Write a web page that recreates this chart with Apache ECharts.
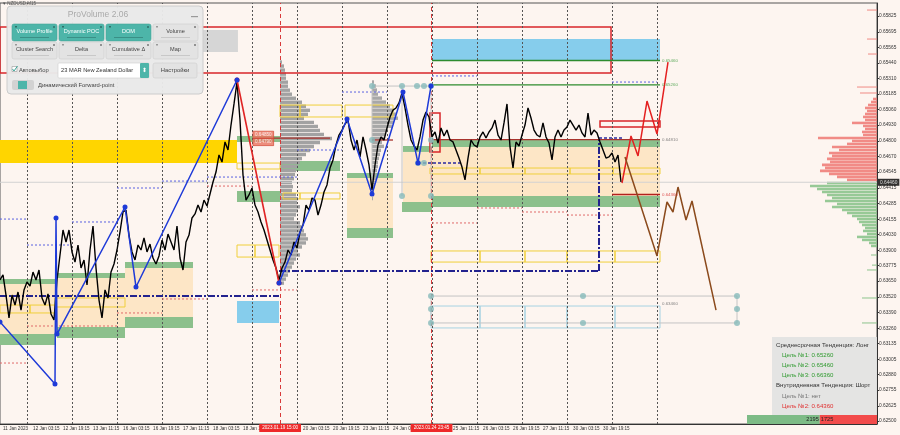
<!DOCTYPE html>
<html><head><meta charset="utf-8">
<script src="https://cdn.jsdelivr.net/npm/echarts@6/dist/echarts.min.js"></script>
<style>html,body{margin:0;padding:0;background:#fdf5f0}#c{width:900px;height:435px}</style>
</head><body><div id="c"></div>
<script>
// ---------- axis ticks ----------
const timeTicks = [11.25, 27.25, 43.25, 59.25, 75.25, 91.25, 107.25, 123.25, 139.25, 171.25, 187.25, 203.25, 219.25, 251.25, 267.25, 283.25, 299.25, 315.25, 331.25];
const timeLabels = ['11 Jan 2023','12 Jan 03:15','12 Jan 19:15','13 Jan 11:15','16 Jan 03:15','16 Jan 19:15','17 Jan 11:15','18 Jan 03:15','18 Jan 19:15','20 Jan 03:15','20 Jan 19:15','23 Jan 11:15','24 Jan 03:15','25 Jan 11:15','26 Jan 03:15','26 Jan 19:15','27 Jan 11:15','30 Jan 03:15','30 Jan 19:15'];
const priceTicks = [0.65825,0.65695,0.65565,0.65440,0.65310,0.65185,0.65060,0.64930,0.64800,0.64670,0.64545,0.64415,0.64285,0.64155,0.64030,0.63900,0.63775,0.63650,0.63520,0.63390,0.63260,0.63135,0.63005,0.62880,0.62755,0.62625,0.62500];
const dayBreaks = [24,48,72,96,120,144,168,192,216,240,264,288,312,336,360];
const eventTimes = [159, 239.75];
const eventLabels = ['2023.01.19 15:00','2023.01.24 23:45'];

// ---------- price (x in trading hours, sampled every 1.6 h) ----------
const priceStart = 9.6, priceStep = 1.6;
const priceClose = [0.63658,0.63699,0.63534,0.63346,0.63534,0.63452,0.63559,0.63411,0.63576,0.63641,0.63608,0.63723,0.63658,0.63740,0.63510,0.63452,0.63543,0.63379,0.63329,0.63658,
0.63863,0.64068,0.63970,0.64068,0.63888,0.63805,0.63945,0.63756,0.63822,0.63617,0.63904,0.64101,0.63756,0.63493,0.63346,0.63576,0.63510,0.63723,0.63789,0.63904,
0.64052,0.64216,0.64232,0.64027,0.63888,0.63822,0.63945,0.63904,0.64003,0.63888,0.63953,0.63838,0.63789,0.63855,0.63986,0.63904,0.64035,0.63970,0.63904,0.64101,
0.63838,0.63740,0.63970,0.64027,0.64167,0.64200,0.64273,0.64216,0.64314,0.64265,0.64364,0.64462,0.64544,0.64684,0.64626,0.64791,0.64725,0.64930,0.65103,0.65283,
0.64971,0.64520,0.64314,0.64356,0.64413,0.64273,0.64216,0.64134,0.64068,0.63986,0.63904,0.63822,0.63756,0.63658,0.63756,0.63805,0.63904,0.63863,0.63970,0.63920,
0.64052,0.64109,0.64273,0.64232,0.64331,0.64314,0.64191,0.64273,0.64380,0.64438,0.64577,0.64643,0.64766,0.64848,0.64889,0.64938,0.64971,0.64807,0.64725,0.64807,
0.64668,0.64832,0.64725,0.64602,0.64397,0.64602,0.64766,0.64832,0.64807,0.64906,0.64996,0.65053,0.65070,0.65111,0.65193,0.65070,0.64930,0.64807,0.64758,0.64725,
0.64832,0.64971,0.65037,0.64996,0.64832,0.64873,0.64782,0.64906,0.64840,0.64889,0.64807,0.64791,0.64725,0.64659,0.64585,0.64479,0.64659,0.64807,0.64766,0.64750,
0.64832,0.64873,0.64823,0.64873,0.64906,0.64971,0.64848,0.64807,0.64947,0.65103,0.64750,0.64577,0.64791,0.64758,0.64848,0.64930,0.65070,0.64988,0.64889,0.64848,
0.64832,0.64947,0.64832,0.64782,0.64643,0.64832,0.64889,0.64832,0.64889,0.64914,0.64971,0.64930,0.64889,0.64930,0.64865,0.64832,0.65029,0.64848,0.64889,0.64865,
0.64791,0.64725,0.64659,0.64668,0.64700,0.64626,0.64684,0.64462];
const currentPrice = 0.64460;

// ---------- zones [x0, x1, pLow, pHigh] ----------
const beigeZones = [[9.6,38.93,0.63214,0.63625],[40,76.27,0.63272,0.63674],[76.27,112.53,0.63354,0.63756],[194.67,219.2,0.64085,0.64495],[224.53,240,0.64298,0.64709],[240,361.6,0.64347,0.64750]];
const goldZones = [[9.6,136,0.64618,0.64807]];
const skyZones = [[240,361.6,0.65464,0.65636],[136,158.4,0.63305,0.63485]];
const greyZones = [[117.87,136.5,0.65530,0.65710]];
const greenZones = [[9.6,38.93,0.63625,0.63666],[40,76.27,0.63674,0.63715],[76.27,112.53,0.63756,0.63805],[9.6,38.93,0.63124,0.63214],[40,76.27,0.63181,0.63272],[76.27,112.53,0.63264,0.63354],
 [136,158.93,0.64298,0.64388],[136,158.93,0.64791,0.64840],[158.93,190.93,0.64553,0.64635],[194.67,219.2,0.64495,0.64536],[194.67,219.2,0.64003,0.64085],[224.53,240,0.64709,0.64758],
 [240,361.6,0.64750,0.64807],[240,361.6,0.64257,0.64347],[224,240,0.64216,0.64298]];
const yellowBoxes = [[136,145.6,0.63846,0.63945],[145.6,158.4,0.63846,0.63945],[9.6,25.6,0.63387,0.63452],[25.6,38.93,0.63387,0.63452],[38.93,76.27,0.63436,0.63510],
 [136,158.93,0.64569,0.64618],[158.93,169.6,0.64996,0.65094],[169.6,192,0.64996,0.65094],[193.6,219.2,0.64996,0.65094],[160.53,169.6,0.64323,0.64372],[169.6,190.93,0.64323,0.64372],
 [238.93,265.6,0.64528,0.64577],[265.6,289.6,0.64528,0.64577],[289.6,313.6,0.64528,0.64577],[313.6,336.53,0.64528,0.64577],[336.53,361.6,0.64528,0.64577],
 [239.47,265.6,0.63805,0.63896],[265.6,289.6,0.63805,0.63896],[289.6,312,0.63805,0.63896],[312,337.6,0.63805,0.63896],[337.6,361.6,0.63805,0.63896]];
const cyanBoxes = [[239.47,265.6,0.63264,0.63444],[265.6,289.6,0.63264,0.63444],[289.6,312,0.63264,0.63444],[312,337.6,0.63264,0.63444],[337.6,361.6,0.63264,0.63444]];
const redBoxes = [[9.6,335.47,0.65357,0.65735],[329.6,361.6,0.64914,0.64963],[238.93,244.27,0.64709,0.65029]];

// ---------- horizontal levels [x0, x1, price] ----------
const greenLevels = [[240,361.6,0.65460],[240,361.6,0.65260]];
const targetLevels = [[336,361.6,0.64360]];
const pocLevels = [[144.53,185.6,0.64823],[208,219.2,0.64807],[240,361.6,0.64810]];
const navyLevels = [[9.6,158.4,0.63526],[158.4,329.07,0.63732]];
const navyVertical = [[329.07,0.63732,329.07,0.64807]];
const navyShort = [[329.07,341.33,0.64823],[232.53,256,0.64618]];
const greyLevels = [[239.47,402.67,0.63526],[239.47,402.67,0.63305],[208,240,0.65250]];
const greyVerticals = [[208,0.64347,208,0.65250],[224,0.64347,224,0.65250],[239.47,0.64347,239.47,0.65250],[239.47,0.63305,239.47,0.63526],[402.67,0.63305,402.67,0.63526]];
const redDaily = [[9.6,24,0.62976],[24,72,0.63280],[72,96,0.63387],[96,120,0.63502],[120,144,0.64429],[144,168,0.63576],[240,264,0.64126],[264,288,0.64249],[288,312,0.64216],[312,336,0.64191]];
const blueDaily = [[9.6,24,0.64158],[24,48,0.63945],[48,72,0.64134],[72,96,0.64413],[96,120,0.64470],[120,168,0.64503],[168,192,0.64725],[192,216,0.65201],[240,264,0.65333],[336,360,0.65283]];
const tealDots = [[208,0.65250],[224,0.65250],[232,0.65250],[235.73,0.65250],[239.47,0.65250],[208,0.64807],[239.47,0.64807],[232.53,0.64618],[235.73,0.64618],[224,0.64347],[239.47,0.64347],
 [239.47,0.63526],[320.53,0.63526],[402.67,0.63526],[239.47,0.63420],[402.67,0.63420],[239.47,0.63305],[320.53,0.63305],[402.67,0.63305]];

// ---------- zigzag & projections [x, price] ----------
const zigBlueA = [[9.6,0.63313],[38.93,0.62804],[39.47,0.64167],[40,0.63214],[76.27,0.64257],[82.13,0.63600],[136,0.65300]];
const zigRed = [[136,0.65300],[158.4,0.63633]];
const zigBlueB = [[158.4,0.63633],[194.67,0.64980],[208,0.64364],[224.53,0.65201],[232.53,0.64618],[239.47,0.65250]];
const projUp = [[341.33,0.64454],[346.13,0.64840],[349.87,0.64676],[354.67,0.65127],[360,0.64856],[365.87,0.65447]];
const projDown = [[342.93,0.64668],[360,0.63855],[365.33,0.64298],[368.53,0.64216],[371.2,0.64421],[375.47,0.64150],[378.67,0.64306],[391.47,0.63411]];

// ---------- labels ----------
const levelLabelX = 361.6;
const levelLabelPrices = [0.65460,0.65260,0.64810,0.64360,0.63460];
const pocLabelX = 144.53;
const pocLabelPrices = [0.64850,0.64790];

// ---------- volume profiles ----------
const profLAnchor = 158.93, profLTop = 0.65447, profStep = 0.00033;
const profLVol = [2,4,5,6,6,8,8,10,12,16,22,26,30,28,24,34,38,40,44,52,40,34,30,26,22,20,18,16,15,14,12,13,12,16,18,17,20,18,16,14,20,22,24,26,28,26,22,18,20,16,14,12,10,8,6,4];
const profRAnchor = 208, profRTop = 0.65283;
const profRVol = [2,4,5,6,10,14,18,22,24,26,22,20,16,14,12,10,12,9,8,7,6,6,5,4,4,3,3,2,2,1];
const domAnchor = 477.33, domStep = 0.000246;
const askTop = 0.65144;
const askVol = [4,6,9,12,10,12,14,12,25,14,12,15,14,59,25,30,45,38,48,45,50,47,55,52,57,48,40,30];
const bidTop = 0.64454;
const bidVol = [50,67,60,55,50,45,52,40,45,35,30,25,20,18,15,12,14,10,20,15,8,6];
const askExtra = [[0.65874,10],[0.65636,10],[0.65513,9],[0.65242,20],[0.65193,17]];
const bidExtra = [[0.63863,6],[0.63780,5],[0.63740,10],[0.63510,15],[0.63305,15]];
const buyVolume = 2195, sellVolume = 1725;

// ---------- info box texts ----------
const infoLines = ['Среднесрочная Тенденция: Лонг','Цель №1: 0.65260','Цель №2: 0.65460','Цель №3: 0.66360','Внутридневная Тенденция: Шорт','Цель №1: нет','Цель №2: 0.64360'];

// =================== rendering ===================
const F = '"Liberation Sans", Arial, sans-serif';
const volScale = 1 / 1.875; // hours of x-axis per volume unit
const xMin = 9.6, xMax = 477.33;
const chart = echarts.init(document.getElementById('c'));

function rectSeries(data, style, z) {
  return { type: 'custom', data: data, z: z, silent: true, clip: true, encode: { x: [0, 1], y: [2, 3] },
    renderItem: function (p, api) {
      const a = api.coord([api.value(0), api.value(3)]);
      const b = api.coord([api.value(1), api.value(2)]);
      return { type: 'rect', shape: { x: a[0], y: a[1], width: b[0] - a[0], height: b[1] - a[1] }, style: style };
    } };
}
function segSeries(data, style, z) {
  return { type: 'custom', data: data, z: z, silent: true, clip: true, encode: { x: [0, 2], y: [1, 3] },
    renderItem: function (p, api) {
      const a = api.coord([api.value(0), api.value(1)]);
      const b = api.coord([api.value(2), api.value(3)]);
      return { type: 'line', shape: { x1: a[0], y1: a[1], x2: b[0], y2: b[1] }, style: style };
    } };
}
const hseg = arr => arr.map(d => [d[0], d[2], d[1], d[2]]);
function profSeries(data, step, dir, color, z, thin) {
  return { type: 'custom', data: data, z: z, silent: true, clip: true, encode: { x: 0, y: 1 },
    renderItem: function (p, api) {
      const c = api.coord([api.value(0), api.value(1)]);
      const len = api.size([api.value(2) * volScale, 0])[0];
      const hh = thin ? 1 : api.size([0, step])[1] * 0.85;
      return { type: 'rect', shape: { x: dir > 0 ? c[0] : c[0] - len, y: c[1] - hh / 2, width: len, height: hh }, style: { fill: color } };
    } };
}
const binData = (anchor, top, step, vols) => vols.map((v, i) => [anchor, top - i * step, v]);

const priceData = priceClose.map((v, i) => [priceStart + i * priceStep, v]);
const levelColors = ['#3a9a3a', '#3a9a3a', '#666', '#d83030', '#666'];

const series = [
  rectSeries(beigeZones, { fill: '#fde6c6' }, 1),
  rectSeries(goldZones, { fill: '#ffd500' }, 1),
  rectSeries(skyZones, { fill: '#86cdec' }, 1),
  rectSeries(greyZones, { fill: '#d6d6d6' }, 1),
  rectSeries(greenZones, { fill: '#8cc08c' }, 2),
  profSeries(binData(profLAnchor, profLTop, profStep, profLVol), profStep, 1, '#a2a2a2', 3),
  profSeries(binData(profRAnchor, profRTop, profStep, profRVol), profStep, 1, '#a8a8a8', 3),
  profSeries(binData(xMax, askTop, domStep, askVol), domStep, -1, 'rgba(240,128,122,0.9)', 3),
  profSeries(binData(xMax, bidTop, domStep, bidVol), domStep, -1, 'rgba(140,196,140,0.9)', 3),
  profSeries(askExtra.map(d => [xMax, d[0], d[1]]), domStep, -1, '#f08a84', 3, true),
  profSeries(bidExtra.map(d => [xMax, d[0], d[1]]), domStep, -1, '#8cc48c', 3, true),
  rectSeries(yellowBoxes, { fill: 'none', stroke: '#f0cf3a', lineWidth: 1 }, 4),
  rectSeries(cyanBoxes, { fill: 'none', stroke: '#a6d2e2', lineWidth: 1 }, 4),
  rectSeries(redBoxes, { fill: 'none', stroke: '#d8262a', lineWidth: 1.5 }, 4),
  segSeries([[xMin, currentPrice, xMax, currentPrice]], { stroke: '#d2d2d2', lineWidth: 1 }, 4),
  segSeries(hseg(redDaily), { stroke: '#e06a6a', lineWidth: 1, lineDash: [2, 2] }, 5),
  segSeries(hseg(blueDaily), { stroke: '#5a62e0', lineWidth: 1, lineDash: [2, 2] }, 5),
  segSeries(hseg(greyLevels).concat(greyVerticals), { stroke: '#c4c4c4', lineWidth: 1 }, 5),
  segSeries(hseg(greenLevels), { stroke: '#2e8b2e', lineWidth: 1.3 }, 5),
  segSeries(hseg(pocLevels), { stroke: '#a8322c', lineWidth: 1.3 }, 5),
  segSeries(hseg(targetLevels), { stroke: '#b3201e', lineWidth: 1.6 }, 5),
  segSeries(hseg(navyLevels).concat(navyVertical), { stroke: '#22228e', lineWidth: 2, lineDash: [7, 2, 2, 2] }, 6),
  segSeries(hseg(navyShort), { stroke: '#2a2aa0', lineWidth: 1.5, lineDash: [3, 2] }, 6),
  { type: 'line', data: [], z: 5, silent: true,
    markLine: { silent: true, symbol: 'none', animation: false,
      lineStyle: { color: '#555', type: [2, 2], width: 1 }, label: { show: false },
      data: dayBreaks.map(v => ({ xAxis: v })) } },
  { type: 'line', data: [], z: 5, silent: true,
    markLine: { silent: true, symbol: 'none', animation: false,
      lineStyle: { color: '#d83a3a', type: [4, 3], width: 1 },
      label: { show: true, position: 'start', distance: 0, formatter: p => eventLabels[p.dataIndex],
        color: '#fff', backgroundColor: '#ee2a2a', fontSize: 4.6, fontFamily: F, padding: [1.5, 3] },
      data: eventTimes.map(v => ({ xAxis: v })) } },
  { type: 'line', data: priceData, z: 8, symbol: 'none', silent: true,
    lineStyle: { color: '#000', width: 1.4 } },
  { type: 'line', data: zigRed, z: 9, symbol: 'circle', symbolSize: 5, showAllSymbol: true, silent: true,
    lineStyle: { color: '#e02424', width: 1.6 }, itemStyle: { color: '#e02424' } },
  { type: 'line', data: zigBlueA, z: 10, symbol: 'circle', symbolSize: 5, showAllSymbol: true, silent: true,
    lineStyle: { color: '#1e3ad8', width: 1.5 }, itemStyle: { color: '#1e3ad8' } },
  { type: 'line', data: zigBlueB, z: 10, symbol: 'circle', symbolSize: 5, showAllSymbol: true, silent: true,
    lineStyle: { color: '#1e3ad8', width: 1.5 }, itemStyle: { color: '#1e3ad8' } },
  { type: 'line', data: projUp, z: 9, symbol: 'none', silent: true, lineStyle: { color: '#e42020', width: 1.5 } },
  { type: 'line', data: projDown, z: 9, symbol: 'none', silent: true, lineStyle: { color: '#8b4a1c', width: 1.5 } },
  { type: 'scatter', data: tealDots, z: 9, symbolSize: 6, silent: true, itemStyle: { color: '#86baba' } },
  { type: 'scatter', z: 10, symbolSize: 0, silent: true,
    data: levelLabelPrices.map((p, i) => ({ value: [levelLabelX, p], label: { color: levelColors[i] } })),
    label: { show: true, position: 'right', distance: 2, fontSize: 4.4, fontFamily: F, formatter: p => p.value[1].toFixed(5) } },
  { type: 'scatter', z: 10, symbolSize: 0, silent: true,
    data: pocLabelPrices.map(p => [pocLabelX, p]),
    label: { show: true, position: 'right', distance: 0, fontSize: 4.6, fontFamily: F, color: '#fff',
      backgroundColor: '#e8735f', borderColor: '#c83a2a', borderWidth: 0.5, padding: [1, 2], formatter: p => p.value[1].toFixed(5) } },
  { type: 'scatter', z: 12, symbolSize: 0, silent: true, clip: false,
    data: [[xMax, currentPrice]],
    label: { show: true, position: 'right', distance: 1, fontSize: 4.8, fontFamily: F, color: '#fff',
      backgroundColor: '#000', padding: [1, 2], formatter: p => p.value[1].toFixed(5) } }
];

// ---------- overlay UI ----------
function btn(x, y, w, h, label, teal) {
  return [
    { type: 'rect', z: 100, shape: { x: x, y: y, width: w, height: h, r: 2 }, style: { fill: teal ? '#4db5a9' : '#e3e3e3', stroke: teal ? '#44a599' : '#cdcdcd', lineWidth: 0.6 } },
    { type: 'circle', z: 101, shape: { cx: x + w - 3, cy: y + 3, r: 1 }, style: { fill: teal ? '#2f6f68' : '#777' } },
    { type: 'rect', z: 101, shape: { x: x + 3, y: y + 2, width: 2, height: 1.5 }, style: { fill: teal ? '#2f6f68' : '#999' } },
    { type: 'rect', z: 101, shape: { x: x + 8, y: y + h - 4, width: w - 16, height: 1 }, style: { fill: teal ? '#3a8f86' : '#c8c8c8' } },
    { type: 'text', z: 102, style: { x: x + w / 2, y: y + h / 2 - 1, text: label, fill: teal ? '#fff' : '#444', fontSize: 5.6, fontFamily: F, align: 'center', verticalAlign: 'middle' } }
  ];
}
const g = [];
g.push({ type: 'text', z: 100, style: { x: 3, y: 1, text: '▾ NZDUSD,M15', fill: '#555', fontSize: 4.5, fontFamily: F } });
g.push({ type: 'rect', z: 100, shape: { x: 7, y: 6, width: 196, height: 88, r: 4 }, style: { fill: 'rgba(233,233,233,0.97)', stroke: '#cccccc', lineWidth: 1 } });
g.push({ type: 'text', z: 101, style: { x: 98, y: 14.5, text: 'ProVolume 2.06', fill: '#a9a9a9', fontSize: 8.5, fontFamily: F, align: 'center', verticalAlign: 'middle' } });
g.push({ type: 'rect', z: 101, shape: { x: 191, y: 16, width: 7, height: 1.2 }, style: { fill: '#9a9a9a' } });
[['Volume Profile', true], ['Dynamic POC', true], ['DOM', true], ['Volume', false]].forEach((b, i) => g.push(...btn(12 + i * 47, 24, 45, 17, b[0], b[1])));
[['Cluster Search', false], ['Delta', false], ['Cumulative Δ', false], ['Map', false]].forEach((b, i) => g.push(...btn(12 + i * 47, 42, 45, 17, b[0], b[1])));
g.push({ type: 'rect', z: 101, shape: { x: 12, y: 66.5, width: 5, height: 5 }, style: { fill: '#fff', stroke: '#999', lineWidth: 0.6 } });
g.push({ type: 'polyline', z: 102, shape: { points: [[12.5, 69], [14, 71], [17.5, 66]] }, style: { stroke: '#3aa597', lineWidth: 1, fill: 'none' } });
g.push({ type: 'text', z: 101, style: { x: 19, y: 70, text: 'Автовыбор', fill: '#444', fontSize: 5.8, fontFamily: F, verticalAlign: 'middle' } });
g.push({ type: 'rect', z: 101, shape: { x: 58, y: 63, width: 91, height: 15, r: 1 }, style: { fill: '#ffffff', stroke: '#cfcfcf', lineWidth: 0.6 } });
g.push({ type: 'rect', z: 101, shape: { x: 140, y: 63, width: 9, height: 15, r: 1 }, style: { fill: '#4db5a9' } });
g.push({ type: 'text', z: 102, style: { x: 144.5, y: 70.5, text: '⬍', fill: '#fff', fontSize: 6, fontFamily: F, align: 'center', verticalAlign: 'middle' } });
g.push({ type: 'text', z: 102, style: { x: 61, y: 70.5, text: '23 MAR New Zealand Dollar', fill: '#333', fontSize: 5.7, fontFamily: F, verticalAlign: 'middle' } });
g.push({ type: 'rect', z: 101, shape: { x: 153, y: 63, width: 44, height: 15, r: 2 }, style: { fill: '#e3e3e3', stroke: '#cdcdcd', lineWidth: 0.6 } });
g.push({ type: 'text', z: 102, style: { x: 175, y: 70.5, text: 'Настройки', fill: '#444', fontSize: 5.8, fontFamily: F, align: 'center', verticalAlign: 'middle' } });
g.push({ type: 'rect', z: 101, shape: { x: 12, y: 80, width: 22, height: 10, r: 2 }, style: { fill: '#d2d2d2' } });
g.push({ type: 'rect', z: 102, shape: { x: 18, y: 81, width: 9, height: 8 }, style: { fill: '#4db5a9' } });
g.push({ type: 'text', z: 102, style: { x: 38, y: 85, text: 'Динамический Forward-point', fill: '#444', fontSize: 5.8, fontFamily: F, verticalAlign: 'middle' } });

// info box
g.push({ type: 'rect', z: 100, shape: { x: 772, y: 337, width: 105, height: 78 }, style: { fill: 'rgba(226,226,226,0.93)' } });
const infoColors = ['#333', '#2f9a2f', '#2f9a2f', '#2f9a2f', '#333', '#777', '#e03131'];
const infoIndent = [776, 782, 782, 782, 776, 782, 782];
const infoY = [345, 355, 365, 375, 385.5, 396, 406.5];
infoLines.forEach((t, i) => g.push({ type: 'text', z: 101, style: { x: infoIndent[i], y: infoY[i], text: t, fill: infoColors[i], fontSize: 6.1, fontFamily: F, verticalAlign: 'middle' } }));

// buy / sell volume bar
const barX0 = 747, barX1 = 877, barY = 415, barH = 9;
const split = barX0 + (barX1 - barX0) * buyVolume / (buyVolume + sellVolume);
g.push({ type: 'rect', z: 100, shape: { x: barX0, y: barY, width: split - barX0, height: barH }, style: { fill: '#7dbb86' } });
g.push({ type: 'rect', z: 100, shape: { x: split, y: barY, width: barX1 - split, height: barH }, style: { fill: '#f24b4b' } });
g.push({ type: 'text', z: 101, style: { x: split - 1, y: barY + barH / 2, text: String(buyVolume), fill: '#222', fontSize: 5.6, fontFamily: F, align: 'right', verticalAlign: 'middle' } });
g.push({ type: 'text', z: 101, style: { x: split + 1, y: barY + barH / 2, text: String(sellVolume), fill: '#222', fontSize: 5.6, fontFamily: F, align: 'left', verticalAlign: 'middle' } });

chart.setOption({
  animation: false,
  backgroundColor: '#fdf5f0',
  grid: { left: 0, right: 23, top: 3, bottom: 11, show: true, borderColor: '#555', borderWidth: 1, backgroundColor: '#fdf5f0' },
  xAxis: { type: 'value', min: xMin, max: xMax,
    axisLine: { show: true, lineStyle: { color: '#333' } }, axisTick: { show: false }, splitLine: { show: false },
    axisLabel: { customValues: timeTicks, formatter: v => { const i = timeTicks.indexOf(v); return i >= 0 ? timeLabels[i] : ''; },
      fontSize: 4.6, fontFamily: F, color: '#333', align: 'left', margin: 2 } },
  yAxis: { type: 'value', position: 'right', min: 0.624754, max: 0.659319, scale: true,
    axisLine: { show: true, lineStyle: { color: '#333' } },
    axisTick: { show: true, customValues: priceTicks, length: 2, lineStyle: { color: '#333' } },
    splitLine: { show: false },
    axisLabel: { customValues: priceTicks, formatter: v => v.toFixed(5), fontSize: 4.8, fontFamily: F, color: '#333', margin: 2 } },
  series: series,
  graphic: g
});
</script></body></html>
